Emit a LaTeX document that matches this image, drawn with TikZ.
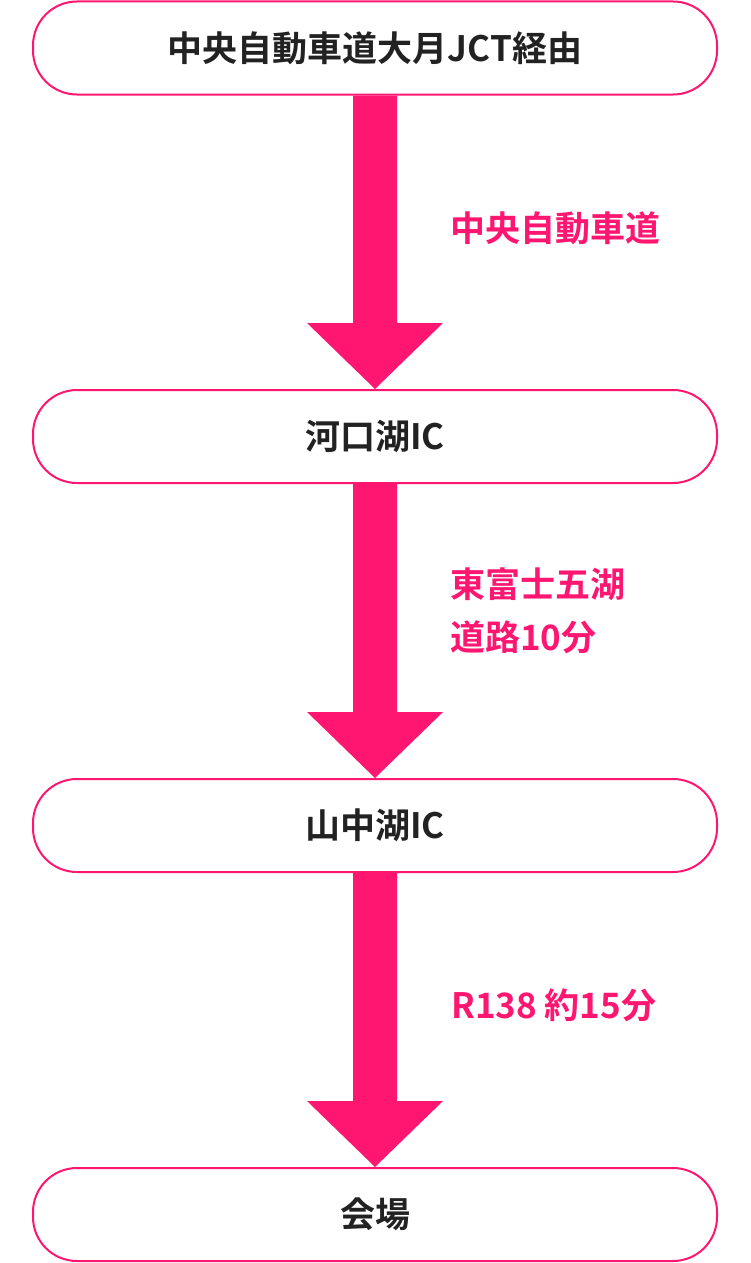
\documentclass[tikz,border=0pt]{standalone}
\usepackage{fontspec}
\setmainfont{Noto Sans CJK JP}[BoldFont={* Bold}]
\newfontfamily\jpb{Noto Sans CJK JP Bold}
\definecolor{pk}{HTML}{FF1670}
\definecolor{tx}{HTML}{222222}
\begin{document}
\begin{tikzpicture}[x=1pt,y=-1pt,
  box/.style={draw=pk,line width=2pt,rounded corners=44pt,minimum width=684pt,minimum height=93pt,inner sep=0pt,font=\jpb\fontsize{35}{40}\selectfont,text=tx},
  lbl/.style={anchor=west,inner sep=0pt,font=\jpb\fontsize{35}{40}\selectfont,text=pk,align=left},
  arr/.style={fill=pk,draw=none}]
\useasboundingbox (0,0) rectangle (750,1263);
\node[box] (b1) at (375,48) {中央自動車道大月JCT経由};
\node[box] (b2) at (375,436.5) {河口湖IC};
\node[box] (b3) at (375,825.5) {山中湖IC};
\node[box] (b4) at (375,1214.5) {会場};
\foreach \a/\b in {b1/b2,b2/b3,b3/b4}{
  \fill[pk] ([xshift=-22pt]\a.south) -- ([xshift=22pt]\a.south) -- ([xshift=22pt,yshift=66pt]\b.north) -- ([xshift=68pt,yshift=66pt]\b.north) -- (\b.north) -- ([xshift=-68pt,yshift=66pt]\b.north) -- ([xshift=-22pt,yshift=66pt]\b.north) -- cycle;
}
\node[lbl] (l1) at (450,228) {中央自動車道};
\node[lbl,font=\jpb\fontsize{35}{53}\selectfont] (l2) at (450,611) {東富士五湖\\道路10分};
\node[lbl] (l3) at (451,1005) {R138 約15分};
\end{tikzpicture}
\end{document}
